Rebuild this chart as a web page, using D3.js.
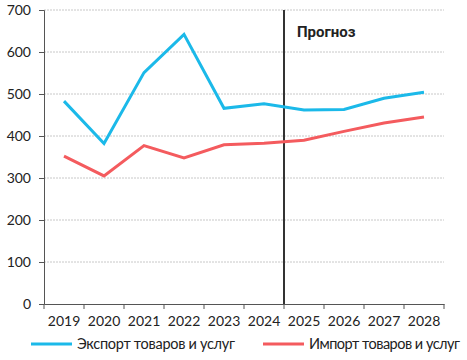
<!DOCTYPE html>
<html><head><meta charset="utf-8">
<script src="https://cdn.jsdelivr.net/npm/d3@7"></script>
<style>body{margin:0;background:#fff;}svg{display:block;font-family:Lato,"Open Sans",sans-serif;}</style>
</head><body>
<svg id="c" width="467" height="360"></svg>
<script>
const years = ["2019","2020","2021","2022","2023","2024","2025","2026","2027","2028"];
const exportVals = [483, 382, 551, 642, 466, 477, 462, 463, 490, 504];
const importVals = [352, 305, 377, 348, 379, 383, 390, 411, 431, 445];
const yTicks = [0,100,200,300,400,500,600,700];
const seriesNames = ["Экспорт товаров и услуг","Импорт товаров и услуг"];
const forecastStart = "2025";
const colors = ["#1bb9e9","#f45b5e"];

const svg = d3.select("#c");
const m = {l:44, r:23, t:10, b:56};
const W = 467, H = 360;
const x = d3.scaleBand().domain(years).range([m.l, W-m.r]);
const y = d3.scaleLinear().domain([0,700]).range([H-m.b, m.t]);

// grid
svg.append("g").selectAll("line").data(yTicks.filter(d=>d>0)).join("line")
  .attr("x1", m.l).attr("x2", W-m.r).attr("y1", d=>y(d)).attr("y2", d=>y(d))
  .attr("stroke","#c8c8c8").attr("stroke-width",1).attr("stroke-dasharray","2,1");

// y axis
const ya = svg.append("g").attr("transform",`translate(${m.l},0)`)
  .call(d3.axisLeft(y).tickValues(yTicks).tickSize(5).tickPadding(8));
ya.select(".domain").attr("stroke","#555");
ya.selectAll(".tick line").attr("stroke","#555");
ya.selectAll("text").attr("font-size",14).attr("fill","#222").attr("font-family","Lato, sans-serif");

// x axis
const xa = svg.append("g").attr("transform",`translate(0,${H-m.b})`)
  .call(d3.axisBottom(x).tickSize(0).tickPadding(12));
xa.select(".domain").attr("stroke","#555");
xa.selectAll("text").attr("font-size",14).attr("fill","#222").attr("font-family","Lato, sans-serif");
const bounds = years.map(d=>x(d)).concat([x(years[years.length-1])+x.bandwidth()]);
xa.selectAll(".bt").data(bounds).join("line").attr("class","bt")
  .attr("x1",d=>d).attr("x2",d=>d).attr("y1",0).attr("y2",5).attr("stroke","#555");

// forecast line
const fx = x(forecastStart);
svg.append("line").attr("x1",fx).attr("x2",fx).attr("y1",y(700)).attr("y2",y(0))
  .attr("stroke","#333").attr("stroke-width",2);
svg.append("text").attr("x",fx+13).attr("y",37).text("Прогноз")
  .attr("font-size",15).attr("font-weight","bold").attr("fill","#222").attr("font-family","Roboto, sans-serif");

// lines
const line = d3.line().x((d,i)=>x(years[i])+x.bandwidth()/2).y(d=>y(d));
[exportVals, importVals].forEach((vals,i)=>{
  svg.append("path").datum(vals).attr("d",line).attr("fill","none")
    .attr("stroke",colors[i]).attr("stroke-width",3).attr("stroke-linejoin","miter");
});

// legend
const leg = [{x:31, tx:77, w:158}, {x:263, tx:309, w:151}];
seriesNames.forEach((n,i)=>{
  svg.append("line").attr("x1",leg[i].x).attr("x2",leg[i].x+41).attr("y1",344).attr("y2",344)
    .attr("stroke",colors[i]).attr("stroke-width",3);
  svg.append("text").attr("x",leg[i].tx).attr("y",349).text(n)
    .attr("font-size",14.5).attr("fill","#222").attr("font-family","Lato, sans-serif")
    .attr("textLength",leg[i].w).attr("lengthAdjust","spacing");
});
</script>
</body></html>
